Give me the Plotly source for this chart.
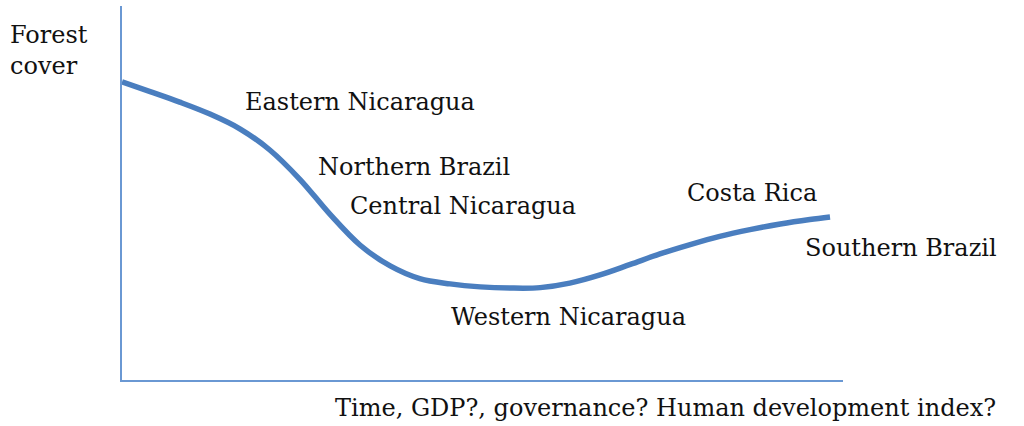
import plotly.graph_objects as go

# Curve: development (x, 0-100) vs forest cover (y, 0-100)
dev = [0, 3.9, 8.0, 12.2, 16.4, 20.5, 24.7, 28.8, 33.0, 37.2, 41.3, 45.5, 49.7,
       53.8, 58.0, 62.1, 66.3, 70.5, 74.6, 78.8, 82.9, 87.1, 91.3, 95.4, 98.2]
cover = [79.7, 77.1, 74.3, 71.1, 67.1, 61.5, 53.6, 44.4, 36.1, 30.5, 27.1, 25.7, 24.9,
         24.6, 24.7, 25.9, 28.1, 30.9, 33.7, 36.2, 38.4, 40.2, 41.7, 42.9, 43.6]

# Region labels and their positions (data coords)
labels = ["Eastern Nicaragua", "Northern Brazil", "Central Nicaragua",
          "Western Nicaragua", "Costa Rica", "Southern Brazil"]
label_x = [16.8, 26.9, 31.3, 45.4, 78.1, 94.5]
label_y = [74.3, 57.0, 46.5, 16.8, 50.0, 35.3]

y_title = "Forest<br>cover"
x_title = "Time, GDP?, governance? Human development index?"

FONT = "DejaVu Serif"
SIZE = 24
fig = go.Figure()
fig.add_trace(go.Scatter(
    x=dev, y=cover, mode="lines",
    line=dict(color="#4a7ebf", width=5.5, shape="spline", smoothing=1.0),
    cliponaxis=False, hoverinfo="skip", showlegend=False))

for t, x, y in zip(labels, label_x, label_y):
    fig.add_annotation(x=x, y=y, text=t, showarrow=False, xanchor="left", yanchor="middle",
                       font=dict(family=FONT, size=SIZE, color="#111111"))

fig.add_annotation(x=-0.158, y=0.882, xref="paper", yref="paper", text=y_title,
                   showarrow=False, xanchor="left", yanchor="middle", align="left",
                   font=dict(family=FONT, size=SIZE, color="#111111"))
fig.add_annotation(x=0.293, y=-0.075, xref="paper", yref="paper", text=x_title,
                   showarrow=False, xanchor="left", yanchor="middle",
                   font=dict(family=FONT, size=SIZE, color="#111111"))

fig.update_layout(
    width=1024, height=426,
    margin=dict(l=122, r=181, t=6, b=46),
    paper_bgcolor="white", plot_bgcolor="white",
    xaxis=dict(range=[0, 100], showline=True, linecolor="#6a98d3", linewidth=2,
               showgrid=False, zeroline=False, showticklabels=False, ticks=""),
    yaxis=dict(range=[0, 100], showline=True, linecolor="#6a98d3", linewidth=2,
               showgrid=False, zeroline=False, showticklabels=False, ticks=""),
)
fig.write_html("out.html", config={"displayModeBar": False},
               post_script="document.body.style.margin='0';")
